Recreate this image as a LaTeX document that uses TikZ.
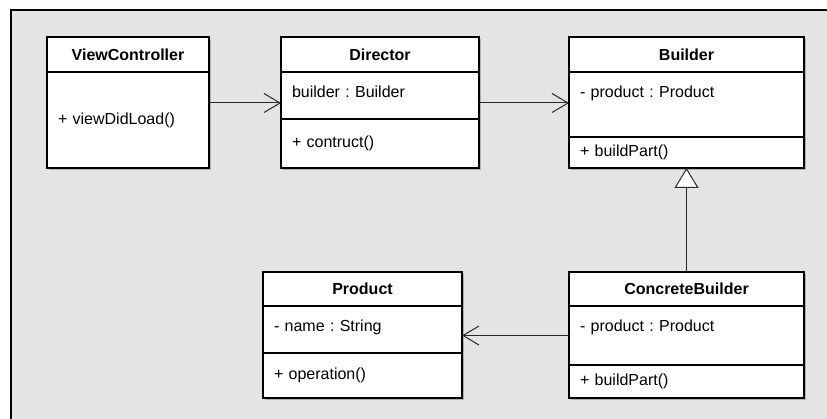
\documentclass[tikz,border=0pt]{standalone}
\usepackage{fontspec}
\setmainfont{Liberation Sans}
\usepackage{tikz}
\usetikzlibrary{positioning,calc,arrows.meta,shadows}
\definecolor{sheet}{RGB}{228,228,228}
\definecolor{wire}{RGB}{40,40,40}
\frenchspacing

\begin{document}
\begin{tikzpicture}[x=1pt,y=-1pt,
		part/.style={draw=black,fill=white,line width=1.6pt,outer sep=0pt,inner xsep=11pt,inner ysep=0pt,text width=#1,align=left,font=\fontsize{16pt}{19pt}\selectfont,drop shadow={shadow xshift=1.6pt,shadow yshift=-1.6pt,fill=black!45,opacity=0.6}},
		head/.style={part=#1,align=center,font=\fontsize{16pt}{19pt}\selectfont\bfseries},
		slot/.style={text height=26pt,text depth=#1},
		assoc/.style={draw=wire,line width=1pt,-{Straight Barb[length=16pt,width=19pt]}},
		inherit/.style={draw=wire,line width=1pt,-{Triangle[open,fill=white,length=20pt,width=24pt]}}
	]
		\useasboundingbox (0,0) rectangle (827,419);
		\fill[sheet] (11,10) rectangle (827,419);
		\draw[line width=2pt] (11,419) -- (11,10) -- (827,10);

		\node[head=140pt,minimum height=35pt,anchor=north west] (vc-title) at (47,37) {ViewController};
		\node[part=140pt,minimum height=96pt,below=0pt of vc-title] (vc-body) {+ viewDidLoad()};

		\node[head=176pt,minimum height=35pt,right=72pt of vc-title] (dir-title) {Director};
		\node[part=176pt,slot=21pt,below=0pt of dir-title] (dir-attr) {builder : Builder};
		\node[part=176pt,minimum height=49pt,below=0pt of dir-attr] (dir-ops) {+ contruct()};

		\node[head=213pt,minimum height=35pt,right=90pt of dir-title] (bld-title) {Builder};
		\node[part=213pt,slot=39pt,below=0pt of bld-title] (bld-attr) {- product : Product};
		\node[part=213pt,minimum height=31pt,below=0pt of bld-attr] (bld-ops) {+ buildPart()};

		\node[head=177pt,minimum height=34pt,anchor=north west] (prod-title) at (263,272) {Product};
		\node[part=177pt,slot=21pt,below=0pt of prod-title] (prod-attr) {- name : String};
		\node[part=177pt,minimum height=45pt,below=0pt of prod-attr] (prod-ops) {+ operation()};

		\node[head=213pt,minimum height=34pt,right=107pt of prod-title] (cb-title) {ConcreteBuilder};
		\node[part=213pt,slot=33pt,below=0pt of cb-title] (cb-attr) {- product : Product};
		\node[part=213pt,minimum height=33pt,below=0pt of cb-attr] (cb-ops) {+ buildPart()};

		\coordinate (row) at (0,103);
		\draw[assoc] (vc-body.east |- row) -- (dir-attr.west |- row);
		\draw[assoc] (dir-attr.east |- row) -- (bld-attr.west |- row);
		\draw[assoc] (cb-attr.west) -- (prod-attr.east |- cb-attr.west);
		\draw[inherit] (cb-title.north) -- (bld-ops.south);
	\end{tikzpicture}
\end{document}
